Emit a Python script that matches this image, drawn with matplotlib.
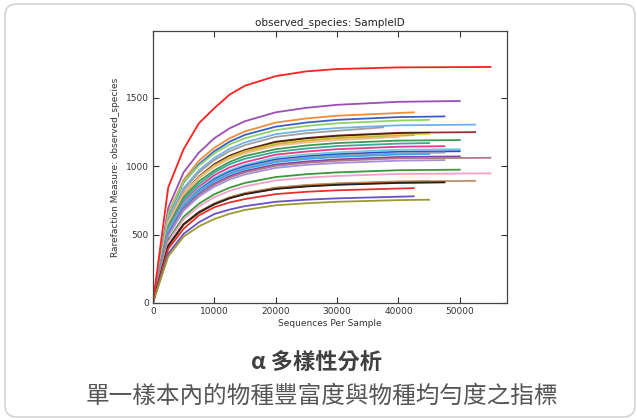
import matplotlib
matplotlib.use("Agg")
import matplotlib.pyplot as plt
from matplotlib.patches import FancyBboxPatch
from matplotlib.transforms import IdentityTransform

# rarefaction depths shared by all samples (last point is each sample's own max depth)
depths = [0, 2500, 5000, 7500, 10000, 12500, 15000, 20000, 25000, 30000, 40000]

# observed species at the depths above that are below the sample's max depth, then at max depth
red_top = [0, 845, 1125, 1315, 1425, 1525, 1590, 1660, 1695, 1712, 1724, 1727]
purple1 = [0, 695, 955, 1100, 1205, 1278, 1330, 1395, 1428, 1450, 1472, 1478]
orange1 = [0, 655, 900, 1040, 1135, 1205, 1255, 1320, 1350, 1370, 1390, 1395]
royal = [0, 640, 880, 1015, 1110, 1180, 1230, 1290, 1320, 1340, 1360, 1365]
lightgreen = [0, 650, 885, 1005, 1095, 1160, 1205, 1265, 1295, 1315, 1335, 1340]
lightblue = [0, 610, 840, 970, 1060, 1128, 1175, 1235, 1262, 1280, 1300, 1305]
gray1 = [0, 600, 825, 955, 1045, 1110, 1155, 1215, 1242, 1260, 1285]
maroon = [0, 575, 800, 925, 1015, 1078, 1120, 1180, 1207, 1225, 1245, 1250]
darkbrown = [0, 560, 790, 920, 1010, 1073, 1115, 1175, 1202, 1220, 1240, 1245]
yellow = [0, 580, 795, 920, 1005, 1067, 1110, 1165, 1192, 1210, 1230, 1235]
mustard = [0, 575, 790, 915, 1000, 1062, 1105, 1160, 1187, 1205, 1223, 1228]
peach = [0, 590, 800, 915, 995, 1055, 1095, 1150, 1175, 1192, 1215]
darkgreen = [0, 560, 770, 890, 970, 1032, 1075, 1125, 1152, 1170, 1188, 1192]
teal = [0, 550, 755, 870, 955, 1015, 1055, 1105, 1130, 1148, 1166, 1170]
deeppink = [0, 530, 735, 850, 935, 992, 1030, 1085, 1108, 1125, 1143, 1147]
lightcyan = [0, 530, 725, 840, 915, 972, 1010, 1065, 1087, 1102, 1121, 1125]
blue = [0, 515, 710, 825, 905, 960, 1000, 1050, 1073, 1088, 1106, 1110]
grayblue = [0, 520, 710, 820, 897, 952, 990, 1040, 1063, 1078, 1096, 1100]
skyblue = [0, 515, 705, 810, 890, 943, 980, 1030, 1053, 1068, 1086, 1090]
purple2 = [0, 500, 690, 795, 873, 927, 965, 1013, 1035, 1050, 1068, 1072]
mauve = [0, 495, 685, 790, 865, 918, 955, 1003, 1025, 1040, 1058, 1062]
lavender = [0, 490, 675, 778, 850, 903, 940, 988, 1010, 1024, 1041, 1045]
green2 = [0, 460, 630, 726, 795, 843, 878, 921, 942, 955, 971, 975]
pink = [0, 445, 612, 706, 773, 820, 853, 896, 916, 929, 944, 948]
olivegreen = [0, 415, 575, 665, 727, 771, 801, 841, 860, 872, 886, 890]
tan = [0, 420, 576, 665, 728, 773, 804, 844, 863, 875, 889, 893]
darkorange = [0, 415, 571, 659, 721, 766, 797, 836, 855, 867, 881, 885]
black = [0, 418, 575, 662, 722, 766, 796, 834, 852, 864, 878, 882]
red2 = [0, 395, 542, 640, 700, 735, 760, 796, 813, 824, 837, 840]
slateblue = [0, 360, 505, 590, 650, 683, 708, 740, 755, 765, 777, 780]
olive = [0, 340, 485, 560, 614, 652, 680, 714, 729, 740, 752, 755]

# (colour, max depth, values)
samples = [
    ("#9b4fb5", 50000, purple1),
    ("#f08c3c", 42500, orange1),
    ("#3b5fc8", 47500, royal),
    ("#8cd36a", 45000, lightgreen),
    ("#6fb1e8", 52500, lightblue),
    ("#a0a0a0", 37500, gray1),
    ("#9a2f2f", 52500, maroon),
    ("#3a2010", 45000, darkbrown),
    ("#e8d84a", 45000, yellow),
    ("#c8b43a", 42500, mustard),
    ("#f5b88a", 40000, peach),
    ("#3d9a50", 50000, darkgreen),
    ("#3aa89a", 45000, teal),
    ("#e8388c", 47500, deeppink),
    ("#6ec8e0", 50000, lightcyan),
    ("#2450d0", 50000, blue),
    ("#8ca0bc", 47500, grayblue),
    ("#3aa8ea", 45000, skyblue),
    ("#7a44a8", 50000, purple2),
    ("#b07888", 55000, mauve),
    ("#a890d8", 47500, lavender),
    ("#3a9a3a", 50000, green2),
    ("#f4a0c8", 55000, pink),
    ("#4a6a30", 45000, olivegreen),
    ("#c0906a", 52500, tan),
    ("#e86010", 47500, darkorange),
    ("#222222", 47500, black),
    ("#e83030", 42500, red2),
    ("#6a50c8", 42500, slateblue),
    ("#9a9a30", 45000, olive),
    ("#ff2020", 55000, red_top),
]

fig = plt.figure(figsize=(6.37, 4.2), dpi=100)
ax = fig.add_axes([0.240, 0.279, 0.556, 0.647])

for color, maxdepth, vals in samples:
    xs = [d for d in depths if d < maxdepth] + [maxdepth]
    ax.plot(xs, vals, color=color, lw=1.3)

ax.set_xlim(0, 57700)
ax.set_ylim(0, 1990)
ax.set_xticks([0, 10000, 20000, 30000, 40000, 50000])
ax.set_yticks([0, 500, 1000, 1500])
ax.tick_params(direction="in", top=True, right=True, labelsize=6.5, length=4, width=0.8, pad=3, colors="#333333")
for s in ax.spines.values():
    s.set_color("#444444")
    s.set_linewidth(0.9)
ax.set_title("observed_species: SampleID", fontsize=7.5, pad=4, color="#222222")
ax.set_xlabel("Sequences Per Sample", fontsize=6.5, labelpad=2, color="#333333")
ax.set_ylabel("Rarefaction Measure: observed_species", fontsize=6.5, labelpad=4, color="#333333")

cjk = ["Noto Sans CJK TC", "DejaVu Sans"]
fig.text(0.497, 0.135, "α 多樣性分析", fontsize=16, fontweight="bold", family=cjk,
         color="#404040", ha="center", va="center")
fig.text(0.506, 0.057, "單一樣本內的物種豐富度與物種均勻度之指標", fontsize=17, family=cjk,
         color="#555555", ha="center", va="center")

box = FancyBboxPatch((5, 3), 630, 413, boxstyle="round,pad=0,rounding_size=12",
                     transform=IdentityTransform(), fill=False, edgecolor="#d4d4d4", lw=1.2)
fig.patches.append(box)

fig.savefig("out.png", dpi=100)
